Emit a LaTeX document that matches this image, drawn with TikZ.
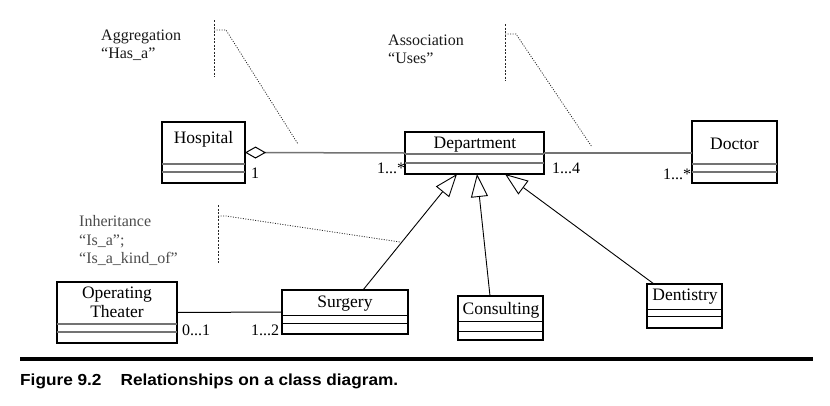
\documentclass[tikz,border=0pt]{standalone}
\usepackage{graphicx}
\usepackage{fontspec}
\setmainfont{Liberation Serif}
\setsansfont{Liberation Sans}
\newfontfamily\capfont[FakeStretch=0.85]{Liberation Sans}
\usetikzlibrary{arrows.meta}
\begin{document}
\begin{tikzpicture}[x=1pt,y=-1pt,
  cls/.style={draw=black, line width=1.1pt, anchor=north west, inner sep=0pt, outer sep=0pt},
  sep/.style={draw=black!55, line width=1.5pt},
  nm/.style={anchor=base, inner sep=0pt, font=\fontsize{17.5}{20}\selectfont, text=black},
  mult/.style={anchor=base west, inner sep=0pt, font=\fontsize{16}{18}\selectfont, text=black},
  note/.style={anchor=base west, inner sep=0pt, font=\fontsize{16}{18}\selectfont, text=black!90},
  inote/.style={note, text=black!70},
  assoc/.style={draw=black!55, line width=1.5pt},
  plain/.style={draw=black, line width=1pt},
  inh/.style={draw=black, line width=0.9pt, -{Triangle[open, length=23pt, width=17pt, line width=0.9pt]}},
  vdash/.style={draw=black!85, line width=0.8pt, dash pattern=on 2pt off 1.5pt},
  ddot/.style={draw=black!85, line width=0.8pt, dash pattern=on 1pt off 1.5pt},
]
\useasboundingbox (0,0) rectangle (830,405);

% ---- classes ----
\node[cls, minimum width=83pt, minimum height=61pt] (hosp) at (162,122) {};
\draw[sep] (hosp.west |- 0,164) -- (hosp.east |- 0,164);
\draw[sep] (hosp.west |- 0,172) -- (hosp.east |- 0,172);
\node[nm] (hospname) at (203.5,143) {Hospital};

\node[cls, minimum width=139pt, minimum height=42pt] (dept) at (405,132) {};
\draw[sep] (dept.west |- 0,154) -- (dept.east |- 0,154);
\draw[sep] (dept.west |- 0,163) -- (dept.east |- 0,163);
\node[nm] (deptname) at (475,148) {Department};

\node[cls, minimum width=85pt, minimum height=62pt] (doc) at (692,121) {};
\draw[sep] (doc.west |- 0,164) -- (doc.east |- 0,164);
\draw[sep] (doc.west |- 0,172) -- (doc.east |- 0,172);
\node[nm] (docname) at (734.5,149) {Doctor};

\node[cls, minimum width=120pt, minimum height=61pt] (ot) at (57,282) {};
\draw[sep] (ot.west |- 0,324) -- (ot.east |- 0,324);
\draw[sep] (ot.west |- 0,332) -- (ot.east |- 0,332);
\node[nm] (otname1) at (117,298) {Operating};
\node[nm] (otname2) at (117,317) {Theater};

\node[cls, minimum width=126pt, minimum height=44pt] (surg) at (282,290) {};
\draw[plain] (surg.west |- 0,315) -- (surg.east |- 0,315);
\draw[plain] (surg.west |- 0,323) -- (surg.east |- 0,323);
\node[nm] (surgname) at (345,307) {Surgery};

\node[cls, minimum width=85pt, minimum height=44pt] (cons) at (458,296) {};
\draw[plain] (cons.west |- 0,321) -- (cons.east |- 0,321);
\draw[plain] (cons.west |- 0,331) -- (cons.east |- 0,331);
\node[nm] (consname) at (501,314) {Consulting};

\node[cls, minimum width=75pt, minimum height=44pt] (dent) at (647,284) {};
\draw[plain] (dent.west |- 0,309) -- (dent.east |- 0,309);
\draw[plain] (dent.west |- 0,316) -- (dent.east |- 0,316);
\node[nm] (dentname) at (685,300) {Dentistry};

% ---- connectors ----
\draw[assoc, {Diamond[open, length=21pt, width=12pt, line width=1pt, color=black]}-] (hosp.east) -- (dept.west);
\draw[assoc] (dept.east |- 0,153) -- (doc.west |- 0,153);
\draw[plain] (ot.east) -- (surg.west);
\draw[inh] ([xshift=18pt]surg.north) -- ([xshift=-17.5pt]dept.south);
\draw[inh] ([xshift=-10.5pt]cons.north) -- ([xshift=2.5pt]dept.south);
\draw[inh] ([xshift=-30.5pt]dent.north) -- ([xshift=30.5pt]dept.south);

% ---- multiplicities ----
\node[mult] (m1) at (251,178) {1};
\node[mult] (m2) at (377,173) {1...*};
\node[mult] (m3) at (552,173) {1...4};
\node[mult] (m4) at (663,179) {1...*};
\node[mult] (m5) at (182,335) {0...1};
\node[mult] (m6) at (251,335) {1...2};

% ---- notes ----
\node[note] (agg1) at (101,40) {Aggregation};
\node[note] (agg2) at (101,58) {“Has\_a”};
\draw[vdash] (214,20) -- (214,77);
\draw[ddot] (214,30) -- (226,30) -- (298,144);

\node[note] (ass1) at (388,45) {Association};
\node[note] (ass2) at (388,63) {“Uses”};
\draw[vdash] (505,24) -- (505,81);
\draw[ddot] (505,34) -- (516,34) -- (592,147);

\node[inote] (inh1) at (79,226) {Inheritance};
\node[inote] (inh2) at (79,245) {“Is\_a”;};
\node[inote] (inh3) at (79,263) {“Is\_a\_kind\_of”};
\draw[vdash] (218,205) -- (218,263);
\draw[ddot] (218,216) -- (226,216) -- (400,242);

% ---- caption ----
\draw[line width=4pt] (20,359) -- (813,359);
\node[anchor=base west, inner sep=0pt, font=\capfont\bfseries\fontsize{16}{19}\selectfont] (cap) at (20,385)
  {\resizebox{378pt}{\height}{Figure 9.2\hspace{15pt}Relationships on a class diagram.}};
\end{tikzpicture}
\end{document}
